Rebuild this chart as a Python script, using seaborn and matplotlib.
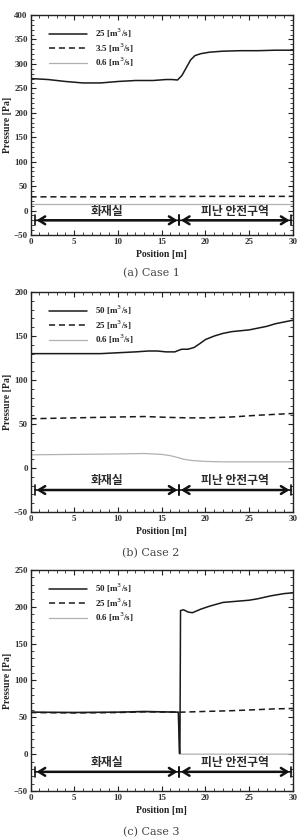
import numpy as np
import pandas as pd
import matplotlib
matplotlib.use("Agg")
import matplotlib.pyplot as plt
import seaborn as sns
from matplotlib.ticker import MultipleLocator

sns.set_style("ticks")
plt.rcParams['font.family'] = ['Liberation Serif', 'Noto Sans CJK KR', 'DejaVu Sans']

# ---------------- data ----------------
# Case 1
c1_x_hi = [0, 2, 4, 6, 8, 10, 12, 14, 15.5, 16.2, 16.8, 17.3, 17.8, 18.3, 18.8, 19.5, 20.5, 22, 24, 26, 28, 30]
c1_y_hi = [270, 268, 264, 261, 261, 264, 266, 266, 268, 268, 267, 276, 292, 308, 317, 321, 324, 326, 327, 327, 328, 328]
c1_x_mid = [0, 5, 10, 15, 20, 25, 30]
c1_y_mid = [28, 28, 28, 28.5, 29, 29, 29]
c1_x_lo = [0, 10, 20, 30]
c1_y_lo = [14, 14, 14, 14]
c1_labels = ["25 [m$^3$/s]", "3.5 [m$^3$/s]", "0.6 [m$^3$/s]"]

# Case 2
c2_x_hi = [0, 4, 8, 10, 12, 13.5, 14.5, 15.5, 16.5, 17.0, 17.3, 18.0, 18.7, 19.3, 20, 21, 22, 23, 24, 25, 26, 27, 28, 29, 30]
c2_y_hi = [130, 130, 130, 131, 132, 133, 133, 132, 132, 134, 135, 135, 137, 141, 146, 150, 153, 155, 156, 157, 159, 161, 164, 166, 168]
c2_x_mid = [0, 5, 10, 13, 16, 18, 20, 23, 26, 28, 30]
c2_y_mid = [56, 57, 58, 58.5, 57.5, 57, 57, 58, 60, 61, 62]
c2_x_lo = [0, 5, 10, 13, 15, 16, 17, 17.5, 18.5, 20, 22, 26, 30]
c2_y_lo = [15, 15.5, 16, 16.5, 15.5, 14, 11.5, 10, 8.5, 7.5, 7, 7, 7]
c2_labels = ["50 [m$^3$/s]", "25 [m$^3$/s]", "0.6 [m$^3$/s]"]

# Case 3
c3_x_hi = [0, 5, 10, 13, 16.9, 17.02, 17.08, 17.15, 17.5, 18.0, 18.5, 19.5, 20.5, 22, 24, 25, 26, 27.5, 29, 30]
c3_y_hi = [57, 56.5, 57, 58, 57, 1, 1, 195, 196, 193, 192, 197, 201, 206, 208, 209, 211, 215, 218, 219]
c3_x_mid = [0, 5, 10, 13, 16.9, 17.2, 20, 23, 26, 28, 30]
c3_y_mid = [56.5, 56, 56.5, 57.5, 57, 57, 58, 59, 60.5, 61.5, 62]
c3_x_lo = [0, 10, 16.9, 17.05, 20, 25, 30]
c3_y_lo = [57, 57, 57, 0, 0, 0, 0]
c3_labels = ["50 [m$^3$/s]", "25 [m$^3$/s]", "0.6 [m$^3$/s]"]

ylims = [(-50, 400), (-50, 200), (-50, 250)]
arrow_y = [-20, -25, -24]
captions = ["(a) Case 1", "(b) Case 2", "(c) Case 3"]
zone_names = ["화재실", "피난 안전구역"]
zone_bounds = [0.5, 17.0, 29.8]

cases = [
    (c1_x_hi, c1_y_hi, c1_x_mid, c1_y_mid, c1_x_lo, c1_y_lo, c1_labels),
    (c2_x_hi, c2_y_hi, c2_x_mid, c2_y_mid, c2_x_lo, c2_y_lo, c2_labels),
    (c3_x_hi, c3_y_hi, c3_x_mid, c3_y_mid, c3_x_lo, c3_y_lo, c3_labels),
]

fig = plt.figure(figsize=(3.02, 8.38), dpi=100)
ax_rects = [
    (0.101, 0.7196, 0.869, 0.2625),
    (0.101, 0.389, 0.869, 0.2625),
    (0.101, 0.0561, 0.869, 0.2637),
]
caption_y = [273, 553, 832]

serif_bold = dict(family=['Liberation Serif'], weight='bold')

for i, (rect, case) in enumerate(zip(ax_rects, cases)):
    ax = fig.add_axes(rect)
    xh, yh, xm, ym, xl, yl, labels = case
    sns.lineplot(x=xh, y=yh, ax=ax, color='#1a1a1a', lw=1.1, label=labels[0], estimator=None, sort=False,
                 zorder=4)
    sns.lineplot(x=xm, y=ym, ax=ax, color='#1a1a1a', lw=1.1, label=labels[1], estimator=None, sort=False,
                 linestyle=(0, (4, 2.5)), zorder=3)
    sns.lineplot(x=xl, y=yl, ax=ax, color='#b0b0b0', lw=0.9, label=labels[2], estimator=None, sort=False,
                 zorder=2)
    ax.set_xlim(0, 30)
    ax.set_ylim(*ylims[i])
    ax.xaxis.set_major_locator(MultipleLocator(5))
    ax.xaxis.set_minor_locator(MultipleLocator(1))
    ax.yaxis.set_major_locator(MultipleLocator(50))
    ax.yaxis.set_minor_locator(MultipleLocator(10))
    ax.tick_params(which='both', direction='in', top=True, right=True, colors='#222222')
    ax.tick_params(which='major', length=3.5, width=0.8, labelsize=6.5, pad=2)
    ax.tick_params(which='minor', length=2, width=0.6)
    for lab in ax.get_xticklabels() + ax.get_yticklabels():
        lab.set_fontfamily('Liberation Serif')
        lab.set_fontweight('bold')
        lab.set_color('#333333')
    for sp in ax.spines.values():
        sp.set_linewidth(1.0)
        sp.set_color('#222222')
    ax.set_xlabel("Position [m]", fontsize=7, color='#222222', labelpad=3, **serif_bold)
    ax.set_ylabel("Pressure [Pa]", fontsize=7, color='#222222', labelpad=1, **serif_bold)

    leg = ax.legend(loc='upper left', bbox_to_anchor=(0.04, 0.985), frameon=False,
                    prop=dict(family='Liberation Serif', weight='bold', size=6.5),
                    handlelength=4.2, handletextpad=0.9, labelspacing=0.15)
    for t in leg.get_texts():
        t.set_color('#222222')

    # zone arrows
    ay = arrow_y[i]
    for a, b, name in zip(zone_bounds[:-1], zone_bounds[1:], zone_names):
        ax.annotate('', xy=(a, ay), xytext=(b, ay),
                    arrowprops=dict(arrowstyle='<->,head_length=0.45,head_width=0.28', lw=1.8,
                                    color='#111111', shrinkA=1.2, shrinkB=1.2))
        ax.annotate('', xy=(a, ay), xytext=(b, ay),
                    arrowprops=dict(arrowstyle='|-|,widthA=0.35,widthB=0.35', lw=1.2,
                                    color='#111111', shrinkA=0, shrinkB=0))
        ax.text((a + b) / 2, ay + 4, name, ha='center', va='bottom', fontsize=8.5,
                family=['Noto Sans CJK KR'], weight='bold', color='#2a2a2a')

    fig.text(0.5, 1 - caption_y[i] / 838, captions[i], ha='center', va='center',
             fontsize=8, family=['DejaVu Serif'], color='#444444')

fig.savefig("out.png", dpi=100)
